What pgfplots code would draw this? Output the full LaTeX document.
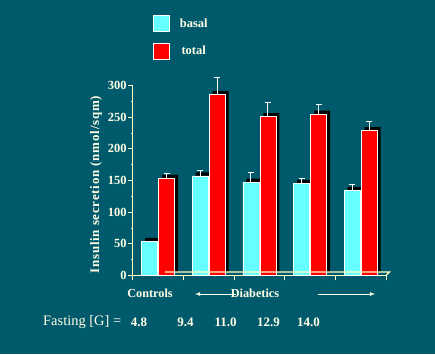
\documentclass[border=0pt]{standalone}
\usepackage{fontspec}
\setmainfont{Liberation Serif}
\usepackage{pgfplots}
\pgfplotsset{compat=1.18}
\definecolor{bg}{RGB}{0,90,108}
\definecolor{cy}{RGB}{102,255,255}
\definecolor{rd}{RGB}{255,0,0}
\definecolor{pale}{RGB}{255,255,200}
\definecolor{txt}{RGB}{255,255,230}
\begin{document}
\begin{tikzpicture}[x=1bp,y=1bp]
\fill[bg] (0,0) rectangle (435,354);
\begin{axis}[
  at={(132.7bp,78.5bp)}, anchor=south west, scale only axis,
  width=253.3bp, height=190bp,
  xmin=-0.5, xmax=4.5, ymin=0, ymax=300,
  clip=false,
  axis x line*=bottom, axis y line*=left,
  axis line style={pale, line width=1.4bp},
  xtick={-0.5,0.5,1.5,2.5,3.5,4.5}, xticklabels={},
  ytick={0,50,100,150,200,250,300},
  minor y tick num=1,
  tick align=outside,
  major tick length=4.5bp, minor tick length=1.5bp,
  tick style={pale, line width=1bp},
  /pgf/number format/assume math mode=true,
  yticklabel style={font=\bfseries\fontsize{12.5}{13}\selectfont, text=txt, inner sep=1.5bp},
  ylabel={Insulin secretion (nmol/sqm)},
  ylabel style={at={(axis description cs:-0.145,0.478)}, anchor=center,
    font=\bfseries\fontsize{13}{14}\selectfont\addfontfeature{LetterSpace=6}, text=txt},
  legend style={draw=none, fill=none, at={(axis description cs:0.08,1.371)}, anchor=north west,
    inner sep=0pt, row sep=11bp, font=\bfseries\fontsize{12.5}{14}\selectfont, text=txt,
    /tikz/every odd column/.append style={column sep=8bp}},
  legend image code/.code={\draw[#1, draw=white, line width=0.7bp] (0bp,-8bp) rectangle (16bp,8bp);},
]
\addlegendimage{fill=cy}
\addlegendentry{basal}
\addlegendimage{fill=rd}
\addlegendentry{total}
% shadows and bars: basal
\addplot[ybar, bar width=16bp, bar shift=0bp, xshift=-5bp, fill=black, draw=none, yshift=3.5bp, forget plot]
  coordinates {(0,54) (1,157.5) (2,147.5) (3,145.5) (4,134.5)};
\addplot[ybar, bar width=16bp, bar shift=0bp, xshift=-8.5bp, fill=cy, draw=white, line width=0.5bp, forget plot,
  error bars/.cd, y dir=plus, y explicit,
  error bar style={white, line width=0.8bp},
  error mark options={rotate=90, mark size=3bp, white, line width=0.8bp}]
  coordinates {(0,54) +- (0,0) (1,157.5) +- (0,8) (2,147.5) +- (0,14.7) (3,145.5) +- (0,7.5) (4,134.5) +- (0,9)};
% total
\addplot[ybar, bar width=16bp, bar shift=0bp, xshift=12bp, fill=black, draw=none, yshift=3.5bp, forget plot]
  coordinates {(0,153.4) (1,285.9) (2,250.8) (3,255) (4,228.8)};
\addplot[ybar, bar width=16bp, bar shift=0bp, xshift=8.5bp, fill=rd, draw=white, line width=0.5bp, forget plot,
  error bars/.cd, y dir=plus, y explicit,
  error bar style={white, line width=0.8bp},
  error mark options={rotate=90, mark size=3bp, white, line width=0.8bp}]
  coordinates {(0,153.4) +- (0,8.6) (1,285.9) +- (0,27) (2,250.8) +- (0,23) (3,255) +- (0,15.7) (4,228.8) +- (0,14.7)};
\draw[pale, line width=1.2bp] (axis cs:4.5,0) -- ++(3.5bp,3.5bp) -- ++(-250bp,0);
\end{axis}
\begin{scope}[every node/.style={text=txt, inner sep=0pt}]
\node[font=\bfseries\fontsize{12.3}{13}\selectfont] at (150,61) {Controls};
\draw[txt, line width=0.8bp, -latex] (236,60) -- (195,60);
\draw[txt, line width=0.8bp, -latex] (318,60) -- (375,60);
\node[font=\bfseries\fontsize{12.3}{13}\selectfont] at (255,61) {Diabetics};
\node[anchor=west, font=\fontsize{14.5}{16}\selectfont] at (43,32) {Fasting [G] =};
\node[font=\bfseries\fontsize{13}{14}\selectfont] at (139,32) {4.8};
\node[font=\bfseries\fontsize{13}{14}\selectfont] at (185.5,32) {9.4};
\node[font=\bfseries\fontsize{13}{14}\selectfont] at (225.5,32) {11.0};
\node[font=\bfseries\fontsize{13}{14}\selectfont] at (268.5,32) {12.9};
\node[font=\bfseries\fontsize{13}{14}\selectfont] at (308.5,32) {14.0};
\end{scope}
\end{tikzpicture}
\end{document}
